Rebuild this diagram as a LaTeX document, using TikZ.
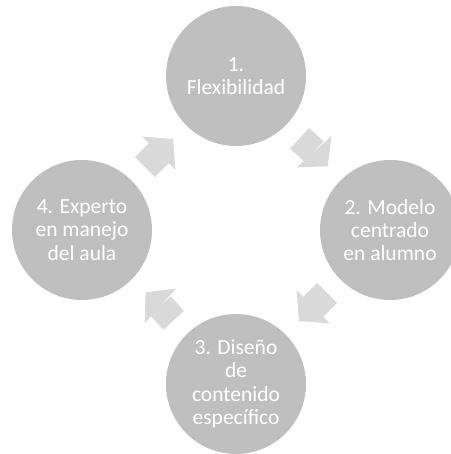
\documentclass[tikz,border=0pt]{standalone}
\usepackage{fontspec}
\setmainfont{Carlito}
\usetikzlibrary{arrows.meta}
\definecolor{phasegrey}{HTML}{BFBFBF}
\definecolor{flowgrey}{HTML}{D9D9D9}

\begin{document}
\begin{tikzpicture}[
    phase/.style={circle,fill=phasegrey,minimum size=3.5cm,inner sep=0pt,
        align=center,text=white,font=\fontsize{15.3}{16.6}\selectfont},
    flow/.style={draw=flowgrey,line width=0.7cm,
        shorten <=0.47cm,shorten >=0.47cm,
        -{Triangle[length=0.5cm,width=1.17cm,line width=0pt]}}]
\useasboundingbox (0,0) rectangle (11.25,11.35);
\node[phase] (flex) at (5.9,9.45) {1.\\Flexibilidad};
\node[phase] (modelo) at (9.75,5.6) {2. Modelo\\centrado\\en alumno};
\node[phase] (diseno) at (5.9,1.75) {3. Diseño\\de\\contenido\\específico};
\node[phase] (experto) at (2.05,5.6) {4. Experto\\en manejo\\del aula};
\draw[flow] (flex) -- (modelo);
\draw[flow] (modelo) -- (diseno);
\draw[flow] (diseno) -- (experto);
\draw[flow] (experto) -- (flex);
\end{tikzpicture}
\end{document}
